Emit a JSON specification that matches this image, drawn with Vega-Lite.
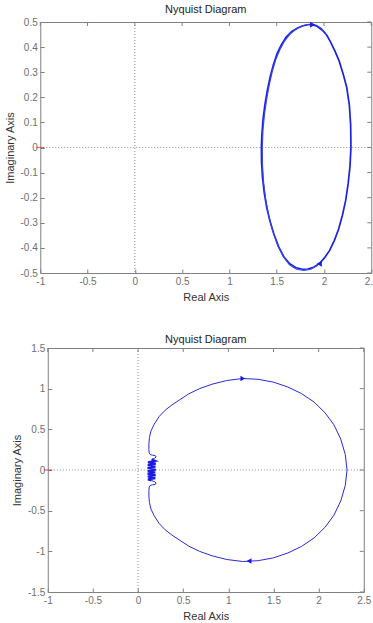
{
  "$schema": "https://vega.github.io/schema/vega-lite/v6.json",
  "padding": {"left": 3, "top": 3, "right": 0, "bottom": 0},
  "config": {
    "font": "Liberation Sans",
    "view": {"stroke": "#808080", "strokeWidth": 1},
    "axis": {
      "domain": false,
      "grid": false,
      "ticks": true,
      "tickSize": -4,
      "tickCount": 20,
      "tickColor": "#808080",
      "labelColor": "#6e6e6e",
      "labelFontSize": 10,
      "labelPadding": 7,
      "labelFlush": false,
      "labelOverlap": false,
      "titleFontSize": 11,
      "titleFontWeight": "normal",
      "titleColor": "#333333",
      "titlePadding": 5
    },
    "title": {"fontSize": 11, "fontWeight": "normal", "color": "#222222", "offset": 2}
  },
  "datasets": {
    "zero": [{"v": 0}],
    "critical": [{"re": -1, "im": 0}],
    "reTicks": [{"t": -1}, {"t": -0.5}, {"t": 0}, {"t": 0.5}, {"t": 1}, {"t": 1.5}, {"t": 2}, {"t": 2.5}],
    "imTicksTop": [{"t": -0.5}, {"t": -0.4}, {"t": -0.3}, {"t": -0.2}, {"t": -0.1}, {"t": 0}, {"t": 0.1}, {"t": 0.2}, {"t": 0.3}, {"t": 0.4}, {"t": 0.5}],
    "imTicksBottom": [{"t": -1.5}, {"t": -1}, {"t": -0.5}, {"t": 0}, {"t": 0.5}, {"t": 1}, {"t": 1.5}],
    "loopTop": [
      {"trace": "a", "k": 0, "re": 2.285, "im": 0.0},
      {"trace": "a", "k": 1, "re": 2.282, "im": 0.09},
      {"trace": "a", "k": 2, "re": 2.268, "im": 0.17},
      {"trace": "a", "k": 3, "re": 2.24, "im": 0.24},
      {"trace": "a", "k": 4, "re": 2.205, "im": 0.29},
      {"trace": "a", "k": 5, "re": 2.16, "im": 0.345},
      {"trace": "a", "k": 6, "re": 2.115, "im": 0.385},
      {"trace": "a", "k": 7, "re": 2.07, "im": 0.42},
      {"trace": "a", "k": 8, "re": 2.03, "im": 0.447},
      {"trace": "a", "k": 9, "re": 1.98, "im": 0.468},
      {"trace": "a", "k": 10, "re": 1.93, "im": 0.482},
      {"trace": "a", "k": 11, "re": 1.88, "im": 0.489},
      {"trace": "a", "k": 12, "re": 1.83, "im": 0.489},
      {"trace": "a", "k": 13, "re": 1.78, "im": 0.485},
      {"trace": "a", "k": 14, "re": 1.72, "im": 0.476},
      {"trace": "a", "k": 15, "re": 1.66, "im": 0.462},
      {"trace": "a", "k": 16, "re": 1.6, "im": 0.44},
      {"trace": "a", "k": 17, "re": 1.55, "im": 0.41},
      {"trace": "a", "k": 18, "re": 1.505, "im": 0.375},
      {"trace": "a", "k": 19, "re": 1.465, "im": 0.33},
      {"trace": "a", "k": 20, "re": 1.43, "im": 0.28},
      {"trace": "a", "k": 21, "re": 1.4, "im": 0.225},
      {"trace": "a", "k": 22, "re": 1.375, "im": 0.17},
      {"trace": "a", "k": 23, "re": 1.355, "im": 0.11},
      {"trace": "a", "k": 24, "re": 1.343, "im": 0.05},
      {"trace": "a", "k": 25, "re": 1.338, "im": 0.0},
      {"trace": "a", "k": 26, "re": 1.34, "im": -0.06},
      {"trace": "a", "k": 27, "re": 1.35, "im": -0.12},
      {"trace": "a", "k": 28, "re": 1.368, "im": -0.18},
      {"trace": "a", "k": 29, "re": 1.395, "im": -0.24},
      {"trace": "a", "k": 30, "re": 1.43, "im": -0.295},
      {"trace": "a", "k": 31, "re": 1.47, "im": -0.345},
      {"trace": "a", "k": 32, "re": 1.52, "im": -0.395},
      {"trace": "a", "k": 33, "re": 1.575, "im": -0.435},
      {"trace": "a", "k": 34, "re": 1.635, "im": -0.462},
      {"trace": "a", "k": 35, "re": 1.7, "im": -0.478},
      {"trace": "a", "k": 36, "re": 1.77, "im": -0.485},
      {"trace": "a", "k": 37, "re": 1.83, "im": -0.484},
      {"trace": "a", "k": 38, "re": 1.89, "im": -0.477},
      {"trace": "a", "k": 39, "re": 1.95, "im": -0.463},
      {"trace": "a", "k": 40, "re": 2.005, "im": -0.44},
      {"trace": "a", "k": 41, "re": 2.06, "im": -0.41},
      {"trace": "a", "k": 42, "re": 2.11, "im": -0.37},
      {"trace": "a", "k": 43, "re": 2.155, "im": -0.325},
      {"trace": "a", "k": 44, "re": 2.195, "im": -0.27},
      {"trace": "a", "k": 45, "re": 2.23, "im": -0.21},
      {"trace": "a", "k": 46, "re": 2.255, "im": -0.145},
      {"trace": "a", "k": 47, "re": 2.275, "im": -0.075},
      {"trace": "a", "k": 48, "re": 2.285, "im": 0.0},
      {"trace": "b", "k": 0, "re": 2.02, "im": 0.455},
      {"trace": "b", "k": 1, "re": 1.97, "im": 0.475},
      {"trace": "b", "k": 2, "re": 1.92, "im": 0.487},
      {"trace": "b", "k": 3, "re": 1.87, "im": 0.492},
      {"trace": "b", "k": 4, "re": 1.82, "im": 0.49},
      {"trace": "b", "k": 5, "re": 1.76, "im": 0.483},
      {"trace": "b", "k": 6, "re": 1.7, "im": 0.47},
      {"trace": "b", "k": 7, "re": 1.64, "im": 0.452},
      {"trace": "b", "k": 8, "re": 1.585, "im": 0.425},
      {"trace": "b", "k": 9, "re": 1.535, "im": 0.39},
      {"trace": "b", "k": 10, "re": 1.49, "im": 0.35},
      {"trace": "b", "k": 11, "re": 1.455, "im": 0.305},
      {"trace": "b", "k": 12, "re": 1.422, "im": 0.25},
      {"trace": "b", "k": 13, "re": 1.395, "im": 0.195},
      {"trace": "b", "k": 14, "re": 1.372, "im": 0.135},
      {"trace": "b", "k": 15, "re": 1.355, "im": 0.07},
      {"trace": "b", "k": 16, "re": 1.348, "im": 0.0},
      {"trace": "b", "k": 17, "re": 1.35, "im": -0.07},
      {"trace": "b", "k": 18, "re": 1.362, "im": -0.14},
      {"trace": "b", "k": 19, "re": 1.385, "im": -0.21},
      {"trace": "b", "k": 20, "re": 1.418, "im": -0.275},
      {"trace": "b", "k": 21, "re": 1.46, "im": -0.335},
      {"trace": "b", "k": 22, "re": 1.51, "im": -0.39},
      {"trace": "b", "k": 23, "re": 1.57, "im": -0.435},
      {"trace": "b", "k": 24, "re": 1.635, "im": -0.467},
      {"trace": "b", "k": 25, "re": 1.71, "im": -0.485},
      {"trace": "b", "k": 26, "re": 1.79, "im": -0.49},
      {"trace": "b", "k": 27, "re": 1.86, "im": -0.485},
      {"trace": "b", "k": 28, "re": 1.93, "im": -0.47}
    ],
    "arrowsTop": [
      {"re": 1.88, "im": 0.489, "heading": "right"},
      {"re": 1.95, "im": -0.463, "heading": "left"}
    ],
    "ring": [
      {"k": 0, "re": 0.15, "im": 0.13},
      {"k": 1, "re": 0.185, "im": 0.145},
      {"k": 2, "re": 0.2, "im": 0.16},
      {"k": 3, "re": 0.19, "im": 0.178},
      {"k": 4, "re": 0.16, "im": 0.182},
      {"k": 5, "re": 0.135, "im": 0.19},
      {"k": 6, "re": 0.124, "im": 0.21},
      {"k": 7, "re": 0.12, "im": 0.25},
      {"k": 8, "re": 0.12, "im": 0.32},
      {"k": 9, "re": 0.126, "im": 0.4},
      {"k": 10, "re": 0.143, "im": 0.48},
      {"k": 11, "re": 0.18, "im": 0.565},
      {"k": 12, "re": 0.235, "im": 0.66},
      {"k": 13, "re": 0.3, "im": 0.735},
      {"k": 14, "re": 0.375, "im": 0.8},
      {"k": 15, "re": 0.46, "im": 0.862},
      {"k": 16, "re": 0.56, "im": 0.935},
      {"k": 17, "re": 0.68, "im": 1.0},
      {"k": 18, "re": 0.82, "im": 1.055},
      {"k": 19, "re": 0.98, "im": 1.1},
      {"k": 20, "re": 1.16, "im": 1.125},
      {"k": 21, "re": 1.33, "im": 1.115},
      {"k": 22, "re": 1.5, "im": 1.08},
      {"k": 23, "re": 1.66, "im": 1.02},
      {"k": 24, "re": 1.81, "im": 0.94},
      {"k": 25, "re": 1.95, "im": 0.835},
      {"k": 26, "re": 2.07, "im": 0.705},
      {"k": 27, "re": 2.17, "im": 0.555},
      {"k": 28, "re": 2.245, "im": 0.38},
      {"k": 29, "re": 2.295, "im": 0.19},
      {"k": 30, "re": 2.315, "im": 0.0},
      {"k": 31, "re": 2.295, "im": -0.19},
      {"k": 32, "re": 2.245, "im": -0.38},
      {"k": 33, "re": 2.17, "im": -0.555},
      {"k": 34, "re": 2.07, "im": -0.705},
      {"k": 35, "re": 1.95, "im": -0.835},
      {"k": 36, "re": 1.81, "im": -0.94},
      {"k": 37, "re": 1.66, "im": -1.02},
      {"k": 38, "re": 1.5, "im": -1.08},
      {"k": 39, "re": 1.33, "im": -1.115},
      {"k": 40, "re": 1.16, "im": -1.125},
      {"k": 41, "re": 0.98, "im": -1.1},
      {"k": 42, "re": 0.82, "im": -1.055},
      {"k": 43, "re": 0.68, "im": -1.0},
      {"k": 44, "re": 0.56, "im": -0.935},
      {"k": 45, "re": 0.46, "im": -0.862},
      {"k": 46, "re": 0.375, "im": -0.8},
      {"k": 47, "re": 0.3, "im": -0.735},
      {"k": 48, "re": 0.235, "im": -0.66},
      {"k": 49, "re": 0.18, "im": -0.565},
      {"k": 50, "re": 0.143, "im": -0.48},
      {"k": 51, "re": 0.126, "im": -0.4},
      {"k": 52, "re": 0.12, "im": -0.32},
      {"k": 53, "re": 0.12, "im": -0.25},
      {"k": 54, "re": 0.124, "im": -0.21},
      {"k": 55, "re": 0.135, "im": -0.19},
      {"k": 56, "re": 0.16, "im": -0.182},
      {"k": 57, "re": 0.19, "im": -0.178},
      {"k": 58, "re": 0.2, "im": -0.16},
      {"k": 59, "re": 0.185, "im": -0.145},
      {"k": 60, "re": 0.15, "im": -0.13}
    ],
    "knot": [
      {"k": 0, "re": 0.15, "im": -0.13},
      {"k": 1, "re": 0.11, "im": -0.115},
      {"k": 2, "re": 0.19, "im": -0.1},
      {"k": 3, "re": 0.108, "im": -0.08},
      {"k": 4, "re": 0.195, "im": -0.065},
      {"k": 5, "re": 0.106, "im": -0.045},
      {"k": 6, "re": 0.19, "im": -0.03},
      {"k": 7, "re": 0.108, "im": -0.012},
      {"k": 8, "re": 0.195, "im": 0.005},
      {"k": 9, "re": 0.106, "im": 0.025},
      {"k": 10, "re": 0.192, "im": 0.042},
      {"k": 11, "re": 0.108, "im": 0.06},
      {"k": 12, "re": 0.195, "im": 0.078},
      {"k": 13, "re": 0.11, "im": 0.095},
      {"k": 14, "re": 0.19, "im": 0.112},
      {"k": 15, "re": 0.15, "im": 0.13}
    ],
    "arrowsBottom": [
      {"re": 1.16, "im": 1.125, "heading": "right"},
      {"re": 1.23, "im": -1.12, "heading": "left"}
    ]
  },
  "concat": [
    {
      "width": 331,
      "height": 251,
      "title": "Nyquist Diagram",
      "layer": [
        {
          "data": {"name": "loopTop"},
          "transform": [{"filter": "datum.trace === 'a'"}],
          "mark": {"type": "line", "stroke": "#1a22e0", "strokeWidth": 1.7},
          "encoding": {
            "x": {"field": "re", "type": "quantitative", "scale": {"domain": [-1, 2.5], "nice": false, "zero": false},
                  "axis": {"orient": "bottom", "title": "Real Axis", "values": [-1, -0.5, 0, 0.5, 1, 1.5, 2, 2.5], "labelExpr": "'' + datum.value"}},
            "y": {"field": "im", "type": "quantitative", "scale": {"domain": [-0.5, 0.5], "nice": false, "zero": false},
                  "axis": {"orient": "left", "title": "Imaginary Axis", "values": [-0.5, -0.4, -0.3, -0.2, -0.1, 0, 0.1, 0.2, 0.3, 0.4, 0.5], "labelExpr": "'' + datum.value"}},
            "order": {"field": "k", "type": "quantitative"}
          }
        },
        {
          "data": {"name": "zero"},
          "mark": {"type": "rule", "stroke": "#8c8c8c", "strokeDash": [1, 2], "strokeWidth": 1},
          "encoding": {
            "x": {"field": "v", "type": "quantitative"}
          }
        },
        {
          "data": {"name": "zero"},
          "mark": {"type": "rule", "stroke": "#8c8c8c", "strokeDash": [1, 2], "strokeWidth": 1},
          "encoding": {
            "y": {"field": "v", "type": "quantitative"}
          }
        },
        {
          "data": {"name": "reTicks"},
          "mark": {"type": "rule", "stroke": "#808080", "strokeWidth": 1},
          "encoding": {
            "x": {"field": "t", "type": "quantitative"},
            "y": {"datum": 0.5, "type": "quantitative"},
            "y2": {"datum": 0.484}
          }
        },
        {
          "data": {"name": "imTicksTop"},
          "mark": {"type": "rule", "stroke": "#808080", "strokeWidth": 1},
          "encoding": {
            "y": {"field": "t", "type": "quantitative"},
            "x": {"datum": 2.5, "type": "quantitative"},
            "x2": {"datum": 2.458}
          }
        },
        {
          "data": {"name": "critical"},
          "mark": {"type": "point", "shape": "stroke", "size": 64, "stroke": "#e03030", "strokeWidth": 1.2, "clip": false},
          "encoding": {
            "x": {"field": "re", "type": "quantitative"},
            "y": {"field": "im", "type": "quantitative"}
          }
        },
        {
          "data": {"name": "loopTop"},
          "transform": [{"filter": "datum.trace === 'b'"}],
          "mark": {"type": "line", "stroke": "#3a44e8", "strokeWidth": 1.1},
          "encoding": {
            "x": {"field": "re", "type": "quantitative"},
            "y": {"field": "im", "type": "quantitative"},
            "order": {"field": "k", "type": "quantitative"}
          }
        },
        {
          "data": {"name": "arrowsTop"},
          "mark": {"type": "point", "filled": true, "size": 36, "color": "#1a22e0", "opacity": 1},
          "encoding": {
            "x": {"field": "re", "type": "quantitative"},
            "y": {"field": "im", "type": "quantitative"},
            "shape": {"field": "heading", "type": "nominal", "scale": {"domain": ["right", "left"], "range": ["triangle-right", "triangle-left"]}, "legend": null}
          }
        }
      ]
    },
    {
      "width": 316,
      "height": 244,
      "title": {"text": "Nyquist Diagram", "offset": -2},
      "layer": [
        {
          "data": {"name": "ring"},
          "mark": {"type": "line", "stroke": "#2a2ad8", "strokeWidth": 1},
          "encoding": {
            "x": {"field": "re", "type": "quantitative", "scale": {"domain": [-1, 2.5], "nice": false, "zero": false},
                  "axis": {"orient": "bottom", "title": "Real Axis", "values": [-1, -0.5, 0, 0.5, 1, 1.5, 2, 2.5], "labelExpr": "'' + datum.value"}},
            "y": {"field": "im", "type": "quantitative", "scale": {"domain": [-1.5, 1.5], "nice": false, "zero": false},
                  "axis": {"orient": "left", "title": "Imaginary Axis", "values": [-1.5, -1, -0.5, 0, 0.5, 1, 1.5], "labelExpr": "'' + datum.value"}},
            "order": {"field": "k", "type": "quantitative"}
          }
        },
        {
          "data": {"name": "zero"},
          "mark": {"type": "rule", "stroke": "#8c8c8c", "strokeDash": [1, 2], "strokeWidth": 1},
          "encoding": {
            "x": {"field": "v", "type": "quantitative"}
          }
        },
        {
          "data": {"name": "zero"},
          "mark": {"type": "rule", "stroke": "#8c8c8c", "strokeDash": [1, 2], "strokeWidth": 1},
          "encoding": {
            "y": {"field": "v", "type": "quantitative"}
          }
        },
        {
          "data": {"name": "reTicks"},
          "mark": {"type": "rule", "stroke": "#808080", "strokeWidth": 1},
          "encoding": {
            "x": {"field": "t", "type": "quantitative"},
            "y": {"datum": 1.5, "type": "quantitative"},
            "y2": {"datum": 1.451}
          }
        },
        {
          "data": {"name": "imTicksBottom"},
          "mark": {"type": "rule", "stroke": "#808080", "strokeWidth": 1},
          "encoding": {
            "y": {"field": "t", "type": "quantitative"},
            "x": {"datum": 2.5, "type": "quantitative"},
            "x2": {"datum": 2.456}
          }
        },
        {
          "data": {"name": "critical"},
          "mark": {"type": "point", "shape": "stroke", "size": 64, "stroke": "#e03030", "strokeWidth": 1.2, "clip": false},
          "encoding": {
            "x": {"field": "re", "type": "quantitative"},
            "y": {"field": "im", "type": "quantitative"}
          }
        },
        {
          "data": {"name": "knot"},
          "mark": {"type": "line", "stroke": "#1a1ae0", "strokeWidth": 2.2},
          "encoding": {
            "x": {"field": "re", "type": "quantitative"},
            "y": {"field": "im", "type": "quantitative"},
            "order": {"field": "k", "type": "quantitative"}
          }
        },
        {
          "data": {"name": "arrowsBottom"},
          "mark": {"type": "point", "filled": true, "size": 30, "color": "#1a1ae0", "opacity": 1},
          "encoding": {
            "x": {"field": "re", "type": "quantitative"},
            "y": {"field": "im", "type": "quantitative"},
            "shape": {"field": "heading", "type": "nominal", "scale": {"domain": ["right", "left"], "range": ["triangle-right", "triangle-left"]}, "legend": null}
          }
        }
      ]
    }
  ],
  "columns": 1,
  "align": "all",
  "center": true,
  "spacing": 30
}
